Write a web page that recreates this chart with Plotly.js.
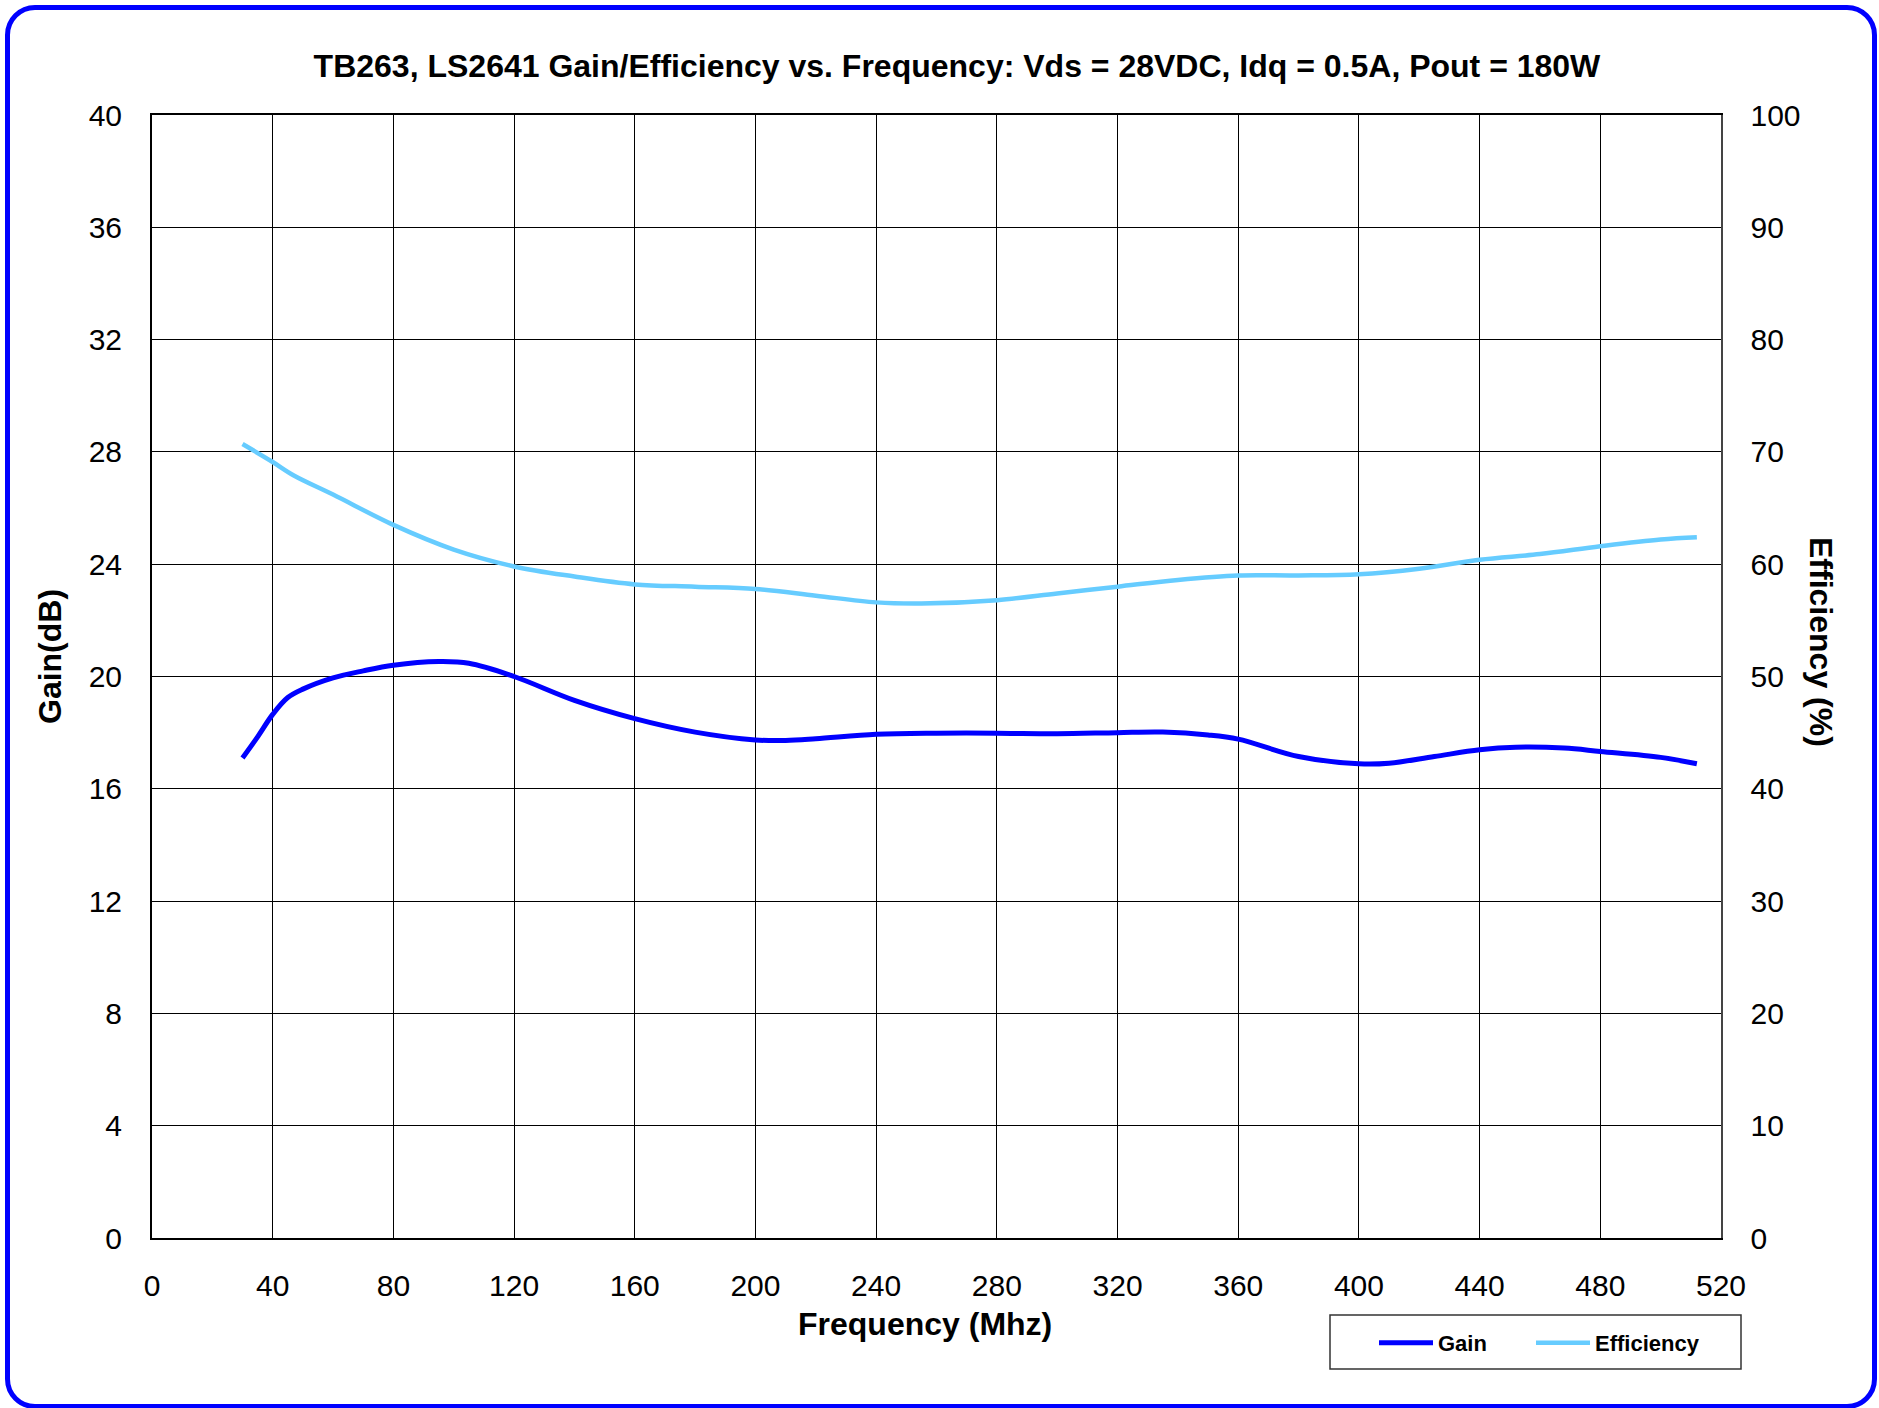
<!DOCTYPE html>
<html>
<head>
<meta charset="utf-8">
<script src="https://cdn.plot.ly/plotly-3.0.1.min.js"></script>
<style>
  html, body { margin: 0; padding: 0; background: #ffffff; }
  #wrap { position: relative; width: 1879px; height: 1408px; overflow: hidden; }
  #chart { position: absolute; left: 0; top: 0; width: 1879px; height: 1408px; }
  #frame { position: absolute; left: 5px; top: 5px; width: 1862px; height: 1394px;
           border: 5px solid #0000FF; border-radius: 30px; pointer-events: none; }
</style>
</head>
<body>
<div id="wrap">
  <div id="chart"></div>
  <div id="frame"></div>
</div>
<script>
// ---- data ----
const gainFreq = [30, 35, 40, 45, 50, 60, 70, 80, 95, 105, 120, 140, 160, 180, 200, 210, 220, 240, 260, 280, 300, 320, 335, 350, 360, 380, 400, 410, 425, 440, 452, 468, 480, 500, 512];
const gainDb   = [17.1, 17.85, 18.65, 19.25, 19.55, 19.95, 20.2, 20.4, 20.53, 20.47, 20.0, 19.15, 18.5, 18.02, 17.74, 17.72, 17.78, 17.94, 17.98, 17.98, 17.96, 18.0, 18.02, 17.92, 17.77, 17.15, 16.89, 16.91, 17.15, 17.39, 17.48, 17.45, 17.33, 17.12, 16.89];

const effFreq = [30, 40, 47, 60, 80, 100, 120, 140, 160, 180, 200, 220, 240, 255, 280, 300, 320, 340, 360, 380, 400, 420, 440, 460, 480, 500, 512];
const effPct  = [70.7, 69.1, 67.9, 66.2, 63.5, 61.3, 59.8, 58.9, 58.2, 58.0, 57.8, 57.2, 56.6, 56.5, 56.8, 57.4, 58.0, 58.6, 59.0, 59.0, 59.1, 59.6, 60.4, 60.9, 61.6, 62.2, 62.4];

const seriesNames = ["Gain", "Efficiency"];
const titleText = "TB263, LS2641 Gain/Efficiency vs. Frequency: Vds = 28VDC, Idq = 0.5A, Pout = 180W";
const xTitle = "Frequency (Mhz)";
const yTitle = "Gain(dB)";
const y2Title = "Efficiency (%)";

const FONT = "Liberation Sans, Arial, Helvetica, sans-serif";

// plot-area pixel geometry helpers (for placing decorations)
const PL = 152, PR = 1721, PT = 115, PB = 1238;
const px = v => (v - PL) / (PR - PL);
const py = v => (PB - v) / (PB - PT);

const traces = [
  { x: gainFreq, y: gainDb, name: seriesNames[0], type: "scatter", mode: "lines", legendwidth: 88,
    line: { color: "#0000FF", width: 5, shape: "spline", smoothing: 1 }, yaxis: "y" },
  { x: effFreq, y: effPct, name: seriesNames[1], type: "scatter", mode: "lines", legendwidth: 130,
    line: { color: "#66CCFF", width: 4.5, shape: "spline", smoothing: 1 }, yaxis: "y2" }
];

const layout = {
  width: 1879, height: 1408,
  margin: { l: PL, r: 1879 - PR, t: PT, b: 1408 - PB, pad: 0 },
  paper_bgcolor: "#ffffff", plot_bgcolor: "#ffffff",
  font: { family: FONT, color: "#000000" },
  title: { text: titleText, xref: "container", x: 0.5093, xanchor: "center",
           yref: "container", y: 1 - 66/1408, yanchor: "middle",
           font: { family: FONT, size: 32, weight: "bold", color: "#000000" } },
  xaxis: { range: [0, 520], tick0: 0, dtick: 40, showgrid: true, gridcolor: "#000000", gridwidth: 1,
           zeroline: false, showline: true, linecolor: "#000000", linewidth: 2, mirror: true,
           ticks: "", ticklabelstandoff: 20, tickfont: { family: FONT, size: 30, color: "#000000" } },
  yaxis: { range: [0, 40], tick0: 0, dtick: 4, showgrid: true, gridcolor: "#000000", gridwidth: 1,
           zeroline: false, showline: true, linecolor: "#000000", linewidth: 2,
           ticks: "", ticklabelstandoff: 22, tickfont: { family: FONT, size: 30, color: "#000000" } },
  yaxis2: { range: [0, 100], tick0: 0, dtick: 10, overlaying: "y", side: "right", showgrid: false,
            zeroline: false, showline: true, linecolor: "#444444", linewidth: 1.5,
            ticks: "", ticklabelstandoff: 22, tickfont: { family: FONT, size: 30, color: "#000000" } },
  showlegend: true,
  legend: { orientation: "h", x: px(1374), xanchor: "left", y: py(1322), yanchor: "top",
            bgcolor: "rgba(0,0,0,0)", borderwidth: 0, itemwidth: 54,
            font: { family: FONT, size: 22, weight: "bold", color: "#000000" } },
  shapes: [
    { type: "rect", xref: "paper", yref: "paper", x0: px(1330), x1: px(1741), y0: py(1315), y1: py(1369),
      line: { color: "#333333", width: 1.5 }, fillcolor: "rgba(0,0,0,0)", layer: "below" }
  ],
  annotations: [
    { text: xTitle, xref: "paper", yref: "paper", x: px(925), y: py(1324),
      xanchor: "center", yanchor: "middle", showarrow: false,
      font: { family: FONT, size: 32, weight: "bold", color: "#000000" } },
    { text: yTitle, xref: "paper", yref: "paper", x: px(50), y: py(656),
      xanchor: "center", yanchor: "middle", showarrow: false, textangle: -90,
      font: { family: FONT, size: 32, weight: "bold", color: "#000000" } },
    { text: y2Title, xref: "paper", yref: "paper", x: px(1821), y: py(642),
      xanchor: "center", yanchor: "middle", showarrow: false, textangle: 90,
      font: { family: FONT, size: 32, weight: "bold", color: "#000000" } }
  ]
};

Plotly.newPlot("chart", traces, layout, { displayModeBar: false, staticPlot: true });
</script>
</body>
</html>
